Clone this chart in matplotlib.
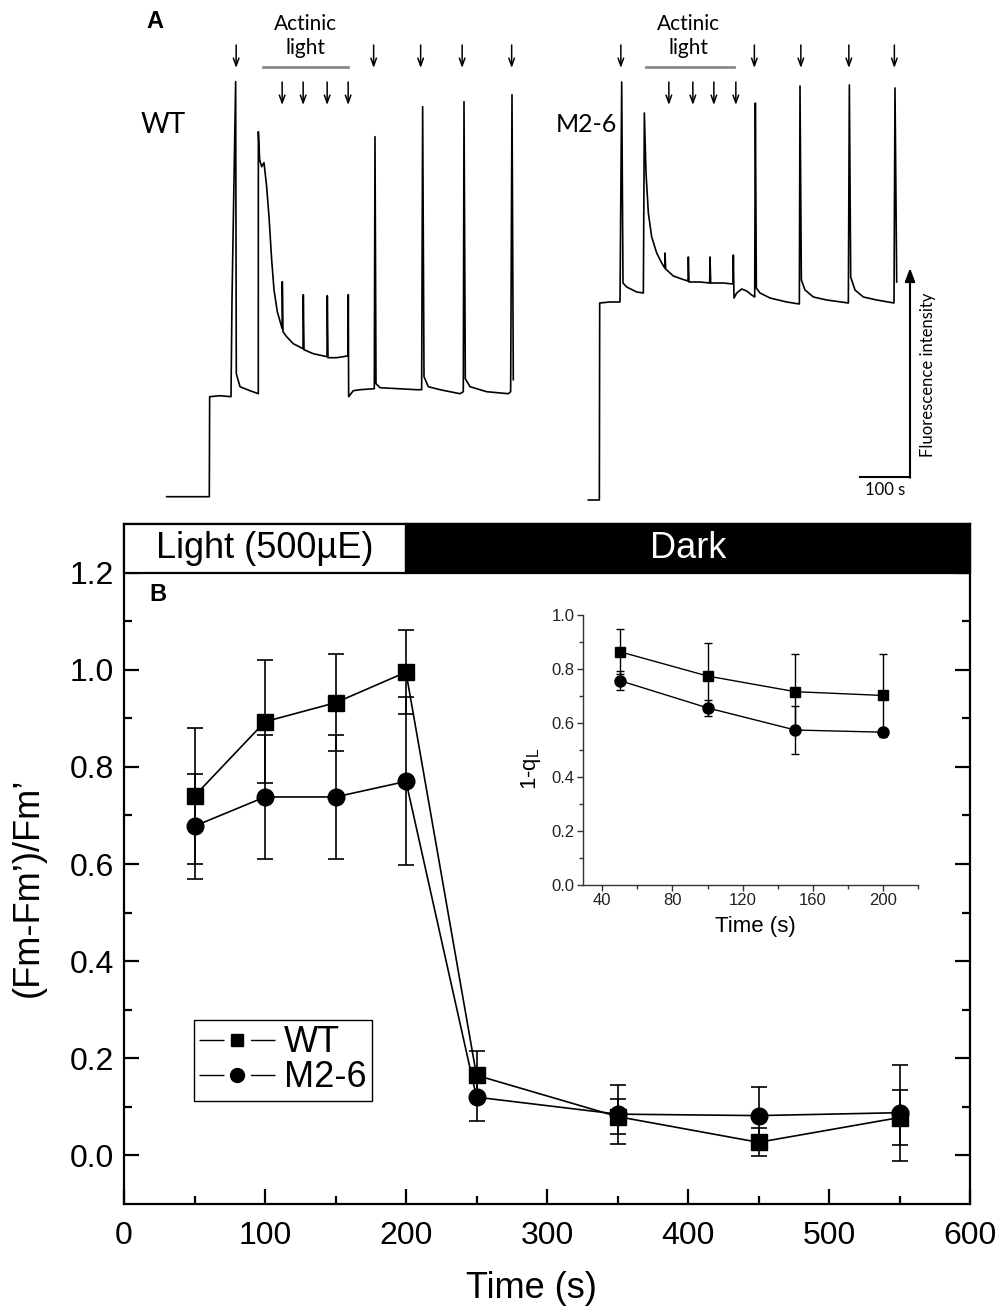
import matplotlib
matplotlib.use("Agg")
import matplotlib.pyplot as plt
from matplotlib.patches import Rectangle
from matplotlib.lines import Line2D

plt.rcParams['font.family'] = ['Liberation Sans', 'DejaVu Sans']

# ---------------- Panel A data (time in s, fluorescence in a.u.) ----------------
wt_t = [0.0, 40, 85.3, 86, 106.7, 128.7, 130.7, 138, 139.3, 146.7, 166.7, 183.3,
        183.4, 186, 190, 194.7, 200, 204.7, 210, 214.7, 221.3, 231.0, 231.3, 232.7,
        240, 253.3, 272.7, 273.3, 274.7, 293.3, 320.7, 321.3, 322.7, 340, 353.3,
        362.7, 363.3, 364, 373.3, 386.7, 415.3, 416.7, 418.7, 426.7, 500, 510,
        512, 514.7, 523.3, 546.7, 586.7, 593.3, 594.7, 597.3, 606.7, 640, 683.3,
        688, 690.7, 693.3]
wt_f = [0, 0, 0, 100, 101, 100, 197, 415, 123, 110, 106, 103,
        365, 337, 330, 334, 310, 280, 237, 207, 185, 168, 215, 165,
        160, 153, 148, 202, 147, 143, 140, 201, 139, 139, 140,
        141, 202, 100, 106, 107, 108, 360, 113, 109, 107, 107,
        390, 120, 110, 107, 103, 105, 395, 118, 110, 105, 103,
        105, 402, 117]

m2_t = [0, 22, 22.7, 43.3, 63.3, 66.7, 69.3, 76.7, 96.7, 110, 112, 115.3, 120,
        126.7, 136.7, 146.7, 152.7, 153.3, 154.7, 170, 186.7, 199.3, 200, 201.3,
        223.3, 242.7, 243.3, 244.7, 270, 289.3, 290, 291.3, 296.7, 306.7, 316.7,
        326.7, 332.7, 334, 336, 343.3, 363.3, 396.7, 422, 423.3, 426, 433.3, 450,
        476.7, 520, 522, 524.7, 533.3, 550, 576.7, 611.3, 613.3, 616.7]
m2_f = [0, 0, 197, 198, 198, 418, 217, 213, 208, 207, 387, 327, 287,
        263, 247, 237, 232, 247, 231, 224, 221, 219, 243, 218,
        218, 217, 243, 217, 217, 216, 245, 202, 207, 211, 209,
        205, 203, 397, 212, 207, 202, 198, 196, 414, 220, 210, 203,
        200, 197, 415, 223, 210, 203, 200, 197, 412, 218]

wt_flash_top = [139, 414, 508, 591, 690]
wt_flash_act = [231, 273, 321, 363]
wt_actinic = [193, 363]
m2_flash_top = [65, 332, 425, 521, 612]
m2_flash_act = [161, 209, 251, 295]
m2_actinic = [115, 292]

# ---------------- Panel B data ----------------
time_b = [50, 100, 150, 200, 250, 350, 450, 550]
wt_b = [0.740, 0.893, 0.932, 0.995, 0.165, 0.080, 0.027, 0.078]
wt_b_err = [0.14, 0.127, 0.10, 0.086, 0.05, 0.036, 0.029, 0.056]
m2_b = [0.678, 0.738, 0.738, 0.770, 0.120, 0.085, 0.082, 0.088]
m2_b_err = [0.108, 0.127, 0.127, 0.173, 0.05, 0.061, 0.058, 0.099]

time_in = [50, 100, 150, 200]
wt_in = [0.864, 0.774, 0.716, 0.702]
wt_in_err = [0.084, 0.124, 0.141, 0.152]
m2_in = [0.757, 0.656, 0.574, 0.566]
m2_in_err = [0.035, 0.030, 0.090, 0.010]

W, H = 1006, 1308
fig = plt.figure(figsize=(W / 100, H / 100), dpi=100)

fontA = ['Lato', 'DejaVu Sans']

def arrows(ax, times, ftop, fbot):
    for t in times:
        ax.annotate('', xy=(t, fbot), xytext=(t, ftop),
                    arrowprops=dict(arrowstyle='->,head_length=0.55,head_width=0.2',
                                    lw=1.1, color='k', shrinkA=0, shrinkB=0),
                    annotation_clip=False)

# ---- WT trace ----
axW = fig.add_axes([120 / W, 1 - 523 / H, 420 / W, 523 / H])
axW.set_xlim(-93.3, 746.7)
axW.set_ylim(-26.3, 496.7)
axW.axis('off')
axW.plot(wt_t, wt_f, color='k', lw=1.2)
arrows(axW, wt_flash_top, 451.7, 428.7)
arrows(axW, wt_flash_act, 414.7, 391.7)
axW.plot(wt_actinic, [429.7, 429.7], color='#8a8a8a', lw=2)
axW.text(sum(wt_actinic) / 2, 460.7, 'Actinic\nlight', ha='center', va='center',
         fontsize=15, family=fontA, linespacing=1.2)
axW.text(-23.3, 474.7, 'A', ha='center', va='center', fontsize=17,
         fontweight='bold', family=['Liberation Sans'])
axW.text(-7.4, 371.7, 'WT', ha='center', va='center', fontsize=20, family=fontA)

# ---- M2-6 trace ----
axM = fig.add_axes([560 / W, 1 - 523 / H, 446 / W, 523 / H])
axM.set_xlim(-56.7, 835.3)
axM.set_ylim(-23, 500)
axM.axis('off')
axM.plot(m2_t, m2_f, color='k', lw=1.2)
arrows(axM, m2_flash_top, 455, 432)
arrows(axM, m2_flash_act, 418, 395)
axM.plot(m2_actinic, [433, 433], color='#8a8a8a', lw=2)
axM.text(sum(m2_actinic) / 2 - 4, 464, 'Actinic\nlight', ha='center', va='center',
         fontsize=15, family=fontA, linespacing=1.2)
axM.text(-4, 375, 'M2-6', ha='center', va='center', fontsize=18, family=fontA)
# scale bar
axM.plot([543.3, 643.3], [23, 23], color='k', lw=1.5, clip_on=False)
axM.annotate('', xy=(643.3, 232), xytext=(643.3, 22.3),
             arrowprops=dict(arrowstyle='-|>,head_length=0.8,head_width=0.3',
                             lw=1.5, color='k', shrinkA=0, shrinkB=0),
             annotation_clip=False)
axM.text(593.3, 10, '100 s', ha='center', va='center', fontsize=12, family=fontA)
axM.text(679.3, 125, 'Fluorescence intensity', ha='center', va='center',
         rotation=90, fontsize=12, family=fontA)

# ---------------- Panel B ----------------
axB = fig.add_axes([124 / W, 1 - 1204 / H, 846 / W, (1204 - 524) / H])
axB.set_xlim(0, 600)
axB.set_ylim(-0.1, 1.3)
for sp in axB.spines.values():
    sp.set_linewidth(1.6)

axB.errorbar(time_b, wt_b, yerr=wt_b_err, color='k', lw=1.2, elinewidth=1.2,
             capsize=6, capthick=1.2, marker='s', ms=11, mfc='k', mec='k', zorder=3)
axB.errorbar(time_b, m2_b, yerr=m2_b_err, color='k', lw=1.2, elinewidth=1.2,
             capsize=6, capthick=1.2, marker='o', ms=12, mfc='k', mec='k', zorder=3)

axB.add_patch(Rectangle((0, 1.2), 200, 0.1, facecolor='white', edgecolor='k',
                        lw=1.6, zorder=4, clip_on=False))
axB.add_patch(Rectangle((200, 1.2), 400, 0.1, facecolor='black', edgecolor='k',
                        lw=1.6, zorder=4, clip_on=False))
axB.text(100, 1.25, 'Light (500\u00b5E)', ha='center', va='center', fontsize=26, zorder=5)
axB.text(400, 1.25, 'Dark', ha='center', va='center', fontsize=26, color='white', zorder=5)
axB.text(24, 1.155, 'B', ha='center', va='center', fontsize=17, fontweight='bold')

axB.set_xticks([0, 100, 200, 300, 400, 500, 600])
axB.set_xticks([50, 150, 250, 350, 450, 550], minor=True)
axB.set_yticks([0.0, 0.2, 0.4, 0.6, 0.8, 1.0, 1.2])
axB.set_yticklabels(['0.0', '0.2', '0.4', '0.6', '0.8', '1.0', '1.2'])
axB.set_yticks([0.1, 0.3, 0.5, 0.7, 0.9, 1.1], minor=True)
axB.tick_params(which='both', direction='in', right=True, top=False, width=1.6)
axB.tick_params(which='major', length=11, labelsize=23)
axB.tick_params(which='minor', length=6)
axB.tick_params(axis='x', pad=12)
axB.tick_params(axis='y', pad=7)
axB.set_xlabel('Time (s)', fontsize=26)
axB.set_ylabel("(Fm-Fm\u2019)/Fm\u2019", fontsize=26)
axB.xaxis.set_label_coords(0.482, -0.0985)
axB.yaxis.set_label_coords(-0.092, 0.466)

h_wt = Line2D([], [], color='k', lw=1.0, dashes=(18, 19), marker='s', ms=9, mfc='k', mec='k')
h_m2 = Line2D([], [], color='k', lw=1.0, dashes=(18, 19), marker='o', ms=10, mfc='k', mec='k')
leg = axB.legend([h_wt, h_m2], ['WT', 'M2-6'], loc='upper left',
                 bbox_to_anchor=(0.0827, 0.2706), borderaxespad=0, fontsize=26,
                 handlelength=2.1, handletextpad=0.25, labelspacing=0.0,
                 borderpad=0.15, fancybox=False, framealpha=1, edgecolor='k')
leg.get_frame().set_linewidth(1.0)

# ---------------- Inset ----------------
axI = fig.add_axes([583 / W, 1 - 885 / H, 335 / W, 270 / H])
axI.set_xlim(29, 220)
axI.set_ylim(0, 1.0)
axI.spines['top'].set_visible(False)
axI.spines['right'].set_visible(False)
for sp in ('left', 'bottom'):
    axI.spines[sp].set_linewidth(1.0)
    axI.spines[sp].set_color('#333333')
axI.errorbar(time_in, wt_in, yerr=wt_in_err, color='k', lw=1.0, elinewidth=1.0,
             capsize=3, capthick=1.0, marker='s', ms=7.5, mfc='k', mec='k')
axI.errorbar(time_in, m2_in, yerr=m2_in_err, color='k', lw=1.0, elinewidth=1.0,
             capsize=3, capthick=1.0, marker='o', ms=8, mfc='k', mec='k')
axI.set_xticks([40, 80, 120, 160, 200])
axI.set_xticks([60, 100, 140, 180, 220], minor=True)
axI.set_yticks([0.0, 0.2, 0.4, 0.6, 0.8, 1.0])
axI.set_yticklabels(['0.0', '0.2', '0.4', '0.6', '0.8', '1.0'])
axI.set_yticks([0.1, 0.3, 0.5, 0.7, 0.9], minor=True)
axI.tick_params(which='both', direction='out', width=1.0, colors='#333333', labelcolor='#222222')
axI.tick_params(which='major', length=4, labelsize=12, pad=2)
axI.tick_params(which='minor', length=3)
axI.set_xlabel('Time (s)', fontsize=16)
axI.set_ylabel('1-q$_\\mathregular{L}$', fontsize=16)
axI.xaxis.set_label_coords(0.515, -0.115)
axI.yaxis.set_label_coords(-0.12, 0.43)

fig.savefig('out.png', dpi=100)
